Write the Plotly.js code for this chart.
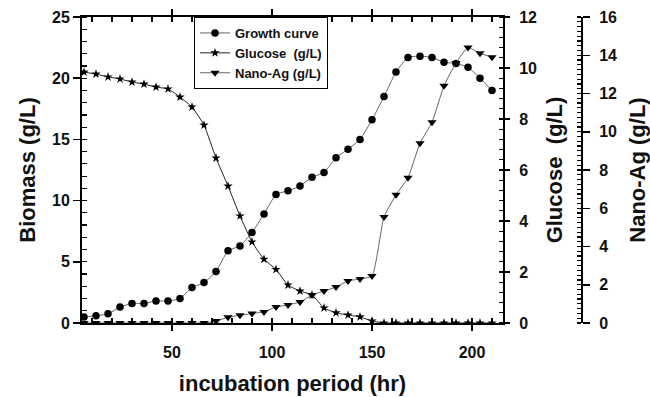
<!DOCTYPE html>
<html>
<head>
<meta charset="utf-8">
<script src="https://cdn.plot.ly/plotly-3.0.1.min.js"></script>
<style>html,body{margin:0;padding:0;background:#fff;}#chart{width:650px;height:397px;}</style>
</head>
<body>
<div id="chart"></div>
<script>
// incubation time (hr)
const hours = [6,12,18,24,30,36,42,48,54,60,66,72,78,84,90,96,102,108,114,120,126,132,138,144,150,156,162,168,174,180,186,192,198,204,210];
// Biomass (g/L)
const growth = [0.5,0.6,0.75,1.3,1.6,1.6,1.8,1.8,2.0,2.9,3.3,4.2,5.9,6.3,7.4,8.9,10.5,10.8,11.2,11.9,12.3,13.5,14.2,15.0,16.6,18.5,20.5,21.7,21.8,21.7,21.3,21.2,20.9,20.0,19.0];
// Glucose (g/L)
const glucose = [9.84,9.76,9.65,9.57,9.45,9.37,9.25,9.18,8.86,8.47,7.76,6.47,5.37,4.2,3.18,2.5,2.1,1.49,1.25,1.1,0.59,0.4,0.31,0.24,0.08,0,0,0,0,0,0,0,0,0,0];
// Nano-Ag (g/L)
const nanoAg = [0,0,0,0,0,0,0,0,0,0,0,0.1,0.3,0.4,0.5,0.58,0.84,0.94,1.1,1.46,1.67,1.88,2.2,2.3,2.46,5.54,6.7,7.6,9.4,10.5,12.4,13.6,14.4,14.1,13.9];

const seriesNames = ["Growth curve", "Glucose\u00a0 (g/L)", "Nano-Ag (g/L)"];
const xTitle = "incubation period (hr)";
const yTitles = ["Biomass (g/L)", "Glucose\u00a0 (g/L)", "Nano-Ag (g/L)"];

const FONT = "Liberation Sans, Arial, sans-serif";
const tickFont = {family: FONT, size: 16, color: "#111", weight: 700};
const titleFont = {family: FONT, size: 22, color: "#111", weight: 700};

const traces = [
  {x: hours, y: growth, name: seriesNames[0], type: "scatter", mode: "lines+markers",
   line: {color: "#666", width: 1, shape: "spline", smoothing: 0.5},
   marker: {symbol: "circle", size: 7.5, color: "#000"}, xaxis: "x", yaxis: "y"},
  {x: hours, y: glucose, name: seriesNames[1], type: "scatter", mode: "lines+markers",
   line: {color: "#222", width: 1, shape: "spline", smoothing: 0.5},
   marker: {symbol: "star", size: 7, color: "#000"}, xaxis: "x", yaxis: "y2"},
  {x: hours, y: nanoAg, name: seriesNames[2], type: "scatter", mode: "lines+markers",
   line: {color: "#666", width: 1, shape: "spline", smoothing: 0.5},
   marker: {symbol: "triangle-down", size: 8, color: "#000"}, xaxis: "x", yaxis: "y3"}
];

const plotW = 650 - 82 - 10;
const xDom = [0, 421 / plotW];
const nanoPos = (582 - 82) / plotW;
const xRange = [5, 215.5];

const common = {showgrid: false, zeroline: false};

const layout = {
  width: 650, height: 397,
  margin: {l: 82, r: 10, t: 17, b: 74},
  paper_bgcolor: "#fff", plot_bgcolor: "rgba(0,0,0,0)",
  showlegend: true,
  legend: {x: (194 - 82) / plotW, y: 1, xanchor: "left", yanchor: "top",
           bgcolor: "#fff", bordercolor: "#000", borderwidth: 1,
           font: {family: FONT, size: 13, color: "#111", weight: 700},
           tracegroupgap: 0},
  xaxis: Object.assign({}, common, {
    domain: xDom, range: xRange, tick0: 0, dtick: 50,
    ticks: "outside", ticklen: 6, tickwidth: 1.5, tickcolor: "#000",
    minor: {dtick: 10, tick0: 0, ticks: "inside", ticklen: 5, tickwidth: 1.2, tickcolor: "#000"},
    showline: true, linewidth: 2, linecolor: "#000", mirror: "ticks",
    tickfont: tickFont, anchor: "y", ticklabelstandoff: 8,
    title: {text: xTitle, font: titleFont, standoff: 15}
  }),
  xaxis2: Object.assign({}, common, {
    domain: xDom, range: xRange, tick0: 0, dtick: 50, overlaying: "x", anchor: "y",
    ticks: "inside", ticklen: 5, tickwidth: 1.5, tickcolor: "#000",
    showticklabels: false, showline: false, mirror: "ticks"
  }),
  yaxis: Object.assign({}, common, {
    range: [0, 25], tick0: 0, dtick: 5, anchor: "x", side: "left",
    ticks: "outside", ticklen: 7, tickwidth: 1.5, tickcolor: "#000",
    minor: {dtick: 1, tick0: 0, ticks: "inside", ticklen: 5, tickwidth: 1.2, tickcolor: "#000"},
    showline: true, linewidth: 2, linecolor: "#000",
    tickfont: tickFont,
    title: {text: yTitles[0], font: titleFont, standoff: 10}
  }),
  yaxis4: Object.assign({}, common, {
    range: [0, 25], tick0: 0, dtick: 5, anchor: "x", side: "left", overlaying: "y",
    ticks: "inside", ticklen: 5, tickwidth: 1.5, tickcolor: "#000",
    showticklabels: false, showline: false
  }),
  yaxis2: Object.assign({}, common, {
    range: [0, 12], tick0: 0, dtick: 2, anchor: "x", side: "right", overlaying: "y",
    ticks: "outside", ticklen: 5, tickwidth: 1.5, tickcolor: "#000",
    minor: {dtick: 0.4, tick0: 0, ticks: "inside", ticklen: 4, tickwidth: 1.2, tickcolor: "#000"},
    showline: true, linewidth: 2, linecolor: "#000",
    tickfont: tickFont, ticklabelstandoff: 6,
    title: {text: yTitles[1], font: titleFont, standoff: 11}
  }),
  yaxis5: Object.assign({}, common, {
    range: [0, 12], tick0: 0, dtick: 2, anchor: "x", side: "right", overlaying: "y",
    ticks: "inside", ticklen: 6, tickwidth: 1.5, tickcolor: "#000",
    showticklabels: false, showline: false
  }),
  yaxis3: Object.assign({}, common, {
    range: [0, 16], tick0: 0, dtick: 2, anchor: "free", position: nanoPos, side: "right", overlaying: "y",
    ticks: "outside", ticklen: 7, tickwidth: 1.5, tickcolor: "#000",
    minor: {dtick: 0.25, tick0: 0, ticks: "inside", ticklen: 4, tickwidth: 1.2, tickcolor: "#000"},
    showline: true, linewidth: 2, linecolor: "#000",
    tickfont: tickFont, ticklabelstandoff: 6,
    title: {text: yTitles[2], font: titleFont, standoff: 13}
  }),
  yaxis6: Object.assign({}, common, {
    range: [0, 16], tick0: 0, dtick: 2, anchor: "free", position: nanoPos, side: "right", overlaying: "y",
    ticks: "inside", ticklen: 5, tickwidth: 1.5, tickcolor: "#000",
    showticklabels: false, showline: false
  })
};

Plotly.newPlot("chart", traces, layout, {displayModeBar: false, staticPlot: true});
</script>
</body>
</html>
